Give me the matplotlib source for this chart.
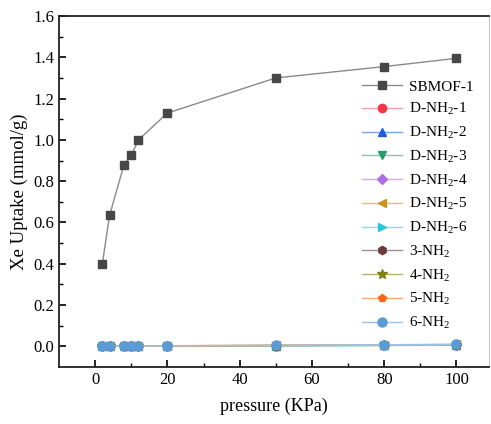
import matplotlib.pyplot as plt
import numpy as np

plt.rcParams['font.family'] = ['Liberation Serif', 'DejaVu Serif']
plt.rcParams['mathtext.fontset'] = 'custom'
plt.rcParams['mathtext.rm'] = 'Liberation Serif'
plt.rcParams['mathtext.it'] = 'Liberation Serif'

pressure = [2, 4, 8, 10, 12, 20, 50, 80, 100]
sbmof = [0.40, 0.635, 0.88, 0.925, 1.0, 1.13, 1.30, 1.355, 1.395]
d_nh2_1 = [0.000, 0.001, 0.001, 0.001, 0.002, 0.002, 0.004, 0.006, 0.008]
d_nh2_2 = [0.000, 0.000, 0.001, 0.001, 0.001, 0.002, 0.003, 0.005, 0.007]
d_nh2_3 = [0.000, 0.001, 0.001, 0.001, 0.001, 0.002, 0.003, 0.004, 0.006]
d_nh2_4 = [0.000, 0.001, 0.001, 0.002, 0.002, 0.002, 0.004, 0.006, 0.008]
d_nh2_5 = [0.000, 0.001, 0.001, 0.002, 0.002, 0.003, 0.005, 0.007, 0.009]
d_nh2_6 = [0.000, 0.000, 0.001, 0.001, 0.001, 0.002, 0.003, 0.005, 0.006]
nh2_3 = [0.000, 0.001, 0.001, 0.001, 0.002, 0.002, 0.004, 0.006, 0.008]
nh2_4 = [0.000, 0.001, 0.001, 0.001, 0.002, 0.002, 0.004, 0.005, 0.007]
nh2_5 = [0.000, 0.001, 0.001, 0.002, 0.002, 0.003, 0.005, 0.007, 0.009]
nh2_6 = [0.001, 0.001, 0.002, 0.002, 0.002, 0.003, 0.005, 0.008, 0.010]

labels = ['SBMOF-1', 'D-NH$_2$-1', 'D-NH$_2$-2', 'D-NH$_2$-3', 'D-NH$_2$-4',
          'D-NH$_2$-5', 'D-NH$_2$-6', '3-NH$_2$', '4-NH$_2$', '5-NH$_2$', '6-NH$_2$']
series = [sbmof, d_nh2_1, d_nh2_2, d_nh2_3, d_nh2_4, d_nh2_5, d_nh2_6,
          nh2_3, nh2_4, nh2_5, nh2_6]
markers = ['s', 'o', '^', 'v', 'D', '<', '>', 'h', '*', 'p', 'o']
mcolors = ['#474747', '#f03a47', '#1f5fd6', '#2a9a6a', '#b06ee6', '#c99412',
           '#22c9d9', '#6b3b3b', '#7f7f18', '#ff6410', '#5b9bd5']
lcolors = ['#8a8a8a', '#f4a0a8', '#7aa3e8', '#86c7a8', '#d2acf0', '#dcc06e',
           '#84e0e8', '#a88c8c', '#b4b46a', '#ffa870', '#9cc2e8']
msizes = [6, 6, 6, 6, 5, 6, 6, 6, 7, 6, 6.5]

fig = plt.figure(figsize=(4.91, 4.24), dpi=100)
ax = fig.add_axes([59 / 491, 1 - 367 / 424, 430 / 491, 351 / 424])

for j in range(len(series)):
    ax.plot(pressure, series[j], marker=markers[j], color=lcolors[j],
            markerfacecolor=mcolors[j], markeredgecolor=mcolors[j],
            markersize=msizes[j], linewidth=1.0, label=labels[j])

ax.set_xlim(-10, 109)
ax.set_ylim(-0.1, 1.6)
ax.set_xticks(np.arange(0, 101, 20))
ax.set_xticks(np.arange(10, 101, 20), minor=True)
ax.set_yticks(np.arange(0, 1.61, 0.2))
ax.set_yticks(np.arange(0.1, 1.6, 0.2), minor=True)
ax.set_yticklabels([f'{v:.1f}' for v in np.arange(0, 1.61, 0.2)])
ax.tick_params(which='major', direction='in', length=5, width=1.2, labelsize=12,
               top=False, right=False)
ax.tick_params(which='minor', direction='in', length=3, width=1.0,
               top=False, right=False)
for side in ['left', 'bottom', 'top']:
    ax.spines[side].set_linewidth(1.3)
    ax.spines[side].set_color('#222222')
ax.spines['right'].set_color('#cccccc')
ax.spines['right'].set_linewidth(0.8)

ax.set_xlabel('pressure (KPa)', fontsize=13, labelpad=7)
ax.set_ylabel('Xe Uptake (mmol/g)', fontsize=13.5, labelpad=4)

ax.legend(loc='upper left', bbox_to_anchor=(0.69, 0.835), frameon=False,
          fontsize=11, labelspacing=0.5, handlelength=2.6, handletextpad=0.5,
          borderaxespad=0)

fig.savefig('out.png', dpi=100)
